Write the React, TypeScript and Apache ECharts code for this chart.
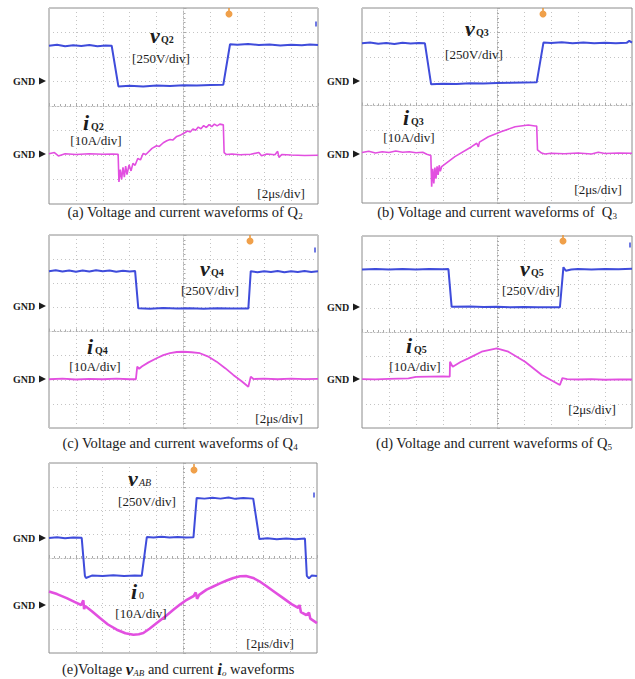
import React, { useEffect, useRef } from "react";
import * as echarts from "echarts";

// Time axis in µs (2 µs/div, trigger at 0) ; vertical axis in screen divisions (-4..4)
const vQ2 = [[-10, 2.46], [-9.4, 2.5], [-8.8, 2.44], [-8.2, 2.48], [-7.6, 2.45], [-7, 2.49], [-6.4, 2.44], [-5.8, 2.47], [-5.34, 2.46], [-4.84, 0.8], [-4, 0.83], [-3, 0.8], [-2, 0.84], [-1, 0.82], [0, 0.85], [1, 0.84], [2, 0.86], [2.96, 0.87], [3.46, 2.52], [4, 2.5], [4.8, 2.53], [5.6, 2.49], [6.4, 2.51], [7.2, 2.47], [8, 2.5], [8.8, 2.48], [9.4, 2.51], [10, 2.49]];
const iQ2 = [[-10, -1.95], [-9.6, -1.9], [-9.3, -2.04], [-8.8, -1.95], [-8, -1.98], [-7, -1.95], [-6, -1.97], [-5.3, -1.96], [-4.86, -1.97], [-4.8, -3.1], [-4.7, -2.6], [-4.6, -3.0], [-4.5, -2.5], [-4.4, -2.9], [-4.3, -2.45], [-4.2, -2.8], [-4.05, -2.4], [-3.9, -2.65], [-3.76, -2.34], [-3.6, -2.42], [-3.4, -2.14], [-3.2, -2.2], [-3.0, -1.94], [-2.8, -1.98], [-2.34, -1.73], [-2.0, -1.62], [-1.8, -1.65], [-1.5, -1.5], [-1.24, -1.42], [-1.0, -1.37], [-0.8, -1.39], [-0.5, -1.24], [-0.2, -1.18], [0.12, -1.08], [0.3, -1.02], [0.5, -1.06], [0.7, -0.94], [0.9, -0.99], [1.1, -0.86], [1.3, -0.93], [1.5, -0.8], [1.7, -0.88], [1.9, -0.76], [2.1, -0.84], [2.3, -0.74], [2.5, -0.81], [2.7, -0.74], [2.96, -0.77], [3.02, -1.9], [3.2, -1.98], [3.6, -1.96], [4.2, -1.99], [5.0, -1.97], [5.6, -1.9], [5.8, -2.03], [6.2, -1.96], [6.8, -1.99], [7.0, -1.85], [7.1, -2.1], [7.3, -1.98], [8, -2.0], [9, -2.02], [10, -2.01]];

const vQ3 = [[-10, 2.55], [-9.4, 2.58], [-8.8, 2.53], [-8.2, 2.56], [-7.6, 2.52], [-7, 2.57], [-6.4, 2.54], [-5.8, 2.56], [-5.34, 2.55], [-4.88, 0.87], [-4, 0.89], [-3, 0.88], [-2, 0.91], [-1, 0.9], [0, 0.92], [1, 0.93], [2, 0.94], [2.94, 0.95], [3.44, 2.58], [4, 2.56], [4.8, 2.59], [5.6, 2.55], [6.4, 2.58], [7.2, 2.55], [8, 2.57], [8.8, 2.55], [9.6, 2.57], [9.8, 2.65], [10, 2.58]];
const iQ3 = [[-10, -1.93], [-9.5, -1.88], [-9, -1.95], [-8.5, -1.9], [-8, -1.93], [-7.5, -1.87], [-7, -1.92], [-6.5, -1.9], [-6, -1.94], [-5.5, -1.92], [-5.2, -2.0], [-4.9, -2.05], [-4.84, -3.33], [-4.76, -2.6], [-4.68, -3.2], [-4.6, -2.55], [-4.52, -3.0], [-4.44, -2.5], [-4.36, -2.85], [-4.28, -2.45], [-4.2, -2.7], [-4.1, -2.51], [-3.12, -2.1], [-1.88, -1.69], [-1.5, -1.55], [-1.38, -1.7], [-1.3, -1.5], [-0.64, -1.28], [0.34, -1.07], [1.34, -0.87], [2.32, -0.8], [2.82, -0.84], [2.94, -0.84], [3.0, -1.82], [3.3, -1.95], [3.56, -1.99], [4, -1.96], [5, -1.98], [6, -1.95], [7, -1.99], [7.5, -1.92], [8, -1.97], [9, -1.95], [10, -1.96]];

const vQ4 = [[-10, 2.5], [-9.5, 2.54], [-9, 2.49], [-8.5, 2.53], [-8, 2.48], [-7.5, 2.53], [-7, 2.49], [-6.5, 2.54], [-6, 2.5], [-5.5, 2.53], [-5, 2.48], [-4.5, 2.52], [-4, 2.49], [-3.6, 2.51], [-3.36, 0.96], [-2.5, 0.94], [-1.5, 0.97], [-0.5, 0.95], [0.5, 0.96], [1.5, 0.94], [2.5, 0.96], [3.5, 0.95], [4.82, 0.95], [5.0, 2.5], [5.5, 2.46], [6, 2.5], [6.5, 2.47], [7, 2.51], [7.5, 2.46], [8, 2.5], [8.5, 2.47], [9, 2.51], [9.5, 2.47], [10, 2.5]];
const iQ4 = [[-10, -1.98], [-9, -1.95], [-8, -1.99], [-7, -1.96], [-6, -1.98], [-5, -1.95], [-4, -1.98], [-3.54, -1.98], [-3.44, -1.45], [-3.3, -1.55], [-3.1, -1.45], [-2.6, -1.28], [-2.0, -1.11], [-1.5, -0.98], [-1.0, -0.9], [-0.5, -0.85], [0, -0.84], [0.6, -0.86], [1.22, -0.9], [1.8, -1.03], [2.46, -1.25], [3.1, -1.52], [3.7, -1.8], [4.3, -2.05], [4.82, -2.29], [5.0, -1.87], [5.2, -1.97], [6, -1.95], [7, -1.98], [8, -1.95], [9, -1.97], [10, -1.96]];

const vQ5 = [[-10, 2.6], [-9, 2.63], [-8, 2.6], [-7, 2.62], [-6, 2.6], [-5, 2.63], [-4, 2.61], [-3.6, 2.62], [-3.36, 1.05], [-2, 1.06], [-1, 1.04], [0, 1.05], [1, 1.03], [2, 1.04], [3, 1.03], [4.66, 1.03], [4.92, 2.7], [5.1, 2.55], [5.5, 2.6], [6, 2.62], [7, 2.6], [8, 2.63], [9, 2.61], [10, 2.64]];
const iQ5 = [[-10, -1.96], [-9, -1.97], [-8, -1.95], [-6.56, -1.93], [-6, -1.87], [-5, -1.86], [-4, -1.85], [-3.5, -1.86], [-3.48, -1.24], [-3.28, -1.45], [-2.7, -1.25], [-2.12, -1.1], [-1.14, -0.82], [-0.02, -0.68], [0.84, -0.82], [2.08, -1.24], [3.32, -1.79], [4.66, -2.21], [4.84, -1.92], [5.2, -1.96], [6, -1.98], [7, -1.96], [8, -1.99], [9, -1.97], [10, -1.98]];

const vAB = [[-10, 0.84], [-9.4, 0.87], [-8.8, 0.83], [-8.2, 0.86], [-7.56, 0.85], [-7.32, -0.75], [-7.25, -0.84], [-6.8, -0.74], [-6, -0.76], [-5.2, -0.73], [-4.4, -0.76], [-3.6, -0.74], [-3.08, -0.75], [-2.7, 0.88], [-2.2, 0.86], [-1.6, 0.89], [-1, 0.86], [-0.4, 0.88], [0.2, 0.86], [0.78, 0.87], [1.02, 2.53], [1.6, 2.5], [2.2, 2.54], [2.8, 2.5], [3.4, 2.55], [3.9, 2.49], [4.5, 2.53], [5.24, 2.5], [5.7, 0.8], [6.3, 0.83], [7, 0.79], [7.7, 0.82], [8.4, 0.79], [9.1, 0.82], [9.24, -0.75], [9.4, -0.86], [9.6, -0.74], [10, -0.76]];
const iO = [[-10, -1.41], [-9.4, -1.52], [-8.68, -1.69], [-8.1, -1.85], [-7.6, -1.98], [-7.44, -1.78], [-7.38, -2.15], [-7.3, -2.02], [-6.8, -2.24], [-6.2, -2.53], [-5.6, -2.8], [-4.94, -3.02], [-4.3, -3.17], [-3.7, -3.23], [-3.3, -3.21], [-2.96, -3.16], [-2.5, -2.98], [-1.96, -2.74], [-1.3, -2.45], [-0.72, -2.18], [-0.2, -1.95], [0.28, -1.76], [0.8, -1.6], [0.95, -1.45], [1.05, -1.72], [1.2, -1.55], [1.76, -1.33], [2.26, -1.2], [2.76, -1.07], [3.26, -0.95], [3.76, -0.84], [4.26, -0.77], [4.7, -0.76], [5.24, -0.84], [5.7, -0.98], [6.24, -1.19], [6.86, -1.44], [7.48, -1.69], [8.1, -1.94], [8.6, -2.1], [8.7, -1.98], [8.8, -2.28], [9.2, -2.4], [9.4, -2.3], [9.5, -2.55], [10, -2.74]];

const voltDiv = "[250V/div]";
const currDiv = "[10A/div]";
const timeDiv = "[2\u03bcs/div]";

const FONT = "'Liberation Serif', 'Times New Roman', serif";
const BLUE = "#3f4cdb";
const PINK = "#e24fe0";
const INK = "#1c1c1c";

type P = {
  g: { left: number; top: number; width: number; height: number };
  v: number[][]; i: number[][]; iw: number;
  vs: [number, number, string, string]; vd: [number, number];
  is: [number, number, string, string]; id: [number, number];
  td: [number, number]; gx: number; gnd: [number, number]; trig: [number, number];
  mark: [number, number] | null;
  cap: [number, number, string];
};

const panels: P[] = [
  { g: { left: 49, top: 8, width: 269, height: 196 }, v: vQ2, i: iQ2, iw: 1.6,
    vs: [150, 46, "v", "Q2"], vd: [161, 58], is: [83, 133, "i", "Q2"], id: [96, 140], td: [281, 193],
    gx: 13, gnd: [81, 154], trig: [229, 14], mark: [316, 24], cap: [185, 212, "{n|(a) Voltage and current waveforms of Q}{s|2}"] },
  { g: { left: 362, top: 8, width: 270, height: 195 }, v: vQ3, i: iQ3, iw: 1.6,
    vs: [465, 39, "v", "Q3"], vd: [474, 54], is: [403, 128, "i", "Q3"], id: [409, 137], td: [598, 189],
    gx: 327, gnd: [81, 154], trig: [543, 14], mark: null, cap: [497, 212, "{n|(b) Voltage and current waveforms of  Q}{s|3}"] },
  { g: { left: 49, top: 235, width: 269, height: 193 }, v: vQ4, i: iQ4, iw: 1.8,
    vs: [200, 279, "v", "Q4"], vd: [210, 290], is: [87, 357, "i", "Q4"], id: [95, 366], td: [279, 418],
    gx: 13, gnd: [306, 379], trig: [250, 241], mark: [315, 250], cap: [180, 443, "{n|(c) Voltage and current waveforms of Q}{s|4}"] },
  { g: { left: 362, top: 236, width: 270, height: 192 }, v: vQ5, i: iQ5, iw: 1.8,
    vs: [520, 279, "v", "Q5"], vd: [531, 290], is: [406, 356, "i", "Q5"], id: [415, 366], td: [592, 409],
    gx: 327, gnd: [307, 379], trig: [563, 241], mark: [630, 245], cap: [494, 443, "{n|(d) Voltage and current waveforms of Q}{s|5}"] },
  { g: { left: 49, top: 463, width: 268, height: 190 }, v: vAB, i: iO, iw: 2.6,
    vs: [128, 489, "v", "AB"], vd: [147, 501], is: [131, 602, "i", "0"], id: [141, 613], td: [270, 643],
    gx: 13, gnd: [538, 605], trig: [194, 470], mark: [314, 495], cap: [62, 669, "{n|(e)Voltage }{b|v}{t|AB}{n| and current }{b|i}{t|o}{n| waveforms}"] },
];

function txt(x: number, y: number, s: string, font: string, align = "left", va = "middle", fill = INK) {
  return { type: "text", x, y, silent: true, z: 20,
    style: { text: s, font, fill, textAlign: align, textVerticalAlign: va, align, verticalAlign: va } };
}

function buildOption() {
  const grid: any[] = [], xAxis: any[] = [], yAxis: any[] = [], series: any[] = [], graphic: any[] = [];
  const gl = { color: "#c4c4c4", type: [1, 3] as any, width: 1 };
  panels.forEach((p, k) => {
    grid.push({ ...p.g, show: true, borderColor: "#8c8c8c", borderWidth: 1, backgroundColor: "#fff" });
    const common = {
      gridIndex: k, type: "value", axisLabel: { show: false },
      axisLine: { show: true, onZero: true, lineStyle: { color: "#b8b8b8", type: [1, 2] } },
      axisTick: { show: true, inside: true, length: 3, lineStyle: { color: "#aaa" } },
      minorTick: { show: true, splitNumber: 5, length: 2, lineStyle: { color: "#aaa" } },
      splitLine: { show: true, lineStyle: gl },
    };
    xAxis.push({ ...common, min: -10, max: 10, interval: 2 });
    yAxis.push({ ...common, min: -4, max: 4, interval: 1 });
    series.push({ type: "line", xAxisIndex: k, yAxisIndex: k, data: p.v, showSymbol: false, silent: true, z: 5,
      lineStyle: { color: BLUE, width: 2 } });
    series.push({ type: "line", xAxisIndex: k, yAxisIndex: k, data: p.i, showSymbol: false, silent: true, z: 6,
      lineStyle: { color: PINK, width: p.iw } });

    const isE = k === 4;
    graphic.push(txt(p.vs[0], p.vs[1], p.vs[2], `italic bold 22px ${FONT}`, "left", "bottom"));
    graphic.push(txt(p.vs[0] + 11, p.vs[1] - 2, p.vs[3], `${isE ? "italic" : "bold"} 10px ${FONT}`, "left", "bottom"));
    graphic.push(txt(p.is[0], p.is[1], p.is[2], `italic bold 22px ${FONT}`, "left", "bottom"));
    graphic.push(txt(p.is[0] + 8, p.is[1] - 2, p.is[3], `${isE ? "" : "bold "}10px ${FONT}`, "left", "bottom"));
    graphic.push(txt(p.vd[0], p.vd[1], voltDiv, `13px ${FONT}`, "center"));
    graphic.push(txt(p.id[0], p.id[1], currDiv, `13px ${FONT}`, "center"));
    graphic.push(txt(p.td[0], p.td[1], timeDiv, `13px ${FONT}`, "center"));
    p.gnd.forEach((gy) => {
      graphic.push(txt(p.gx, gy, "GND", `bold 10px ${FONT}`, "left"));
      graphic.push({ type: "polygon", silent: true, z: 20,
        shape: { points: [[p.gx + 26, gy - 3.5], [p.gx + 33, gy], [p.gx + 26, gy + 3.5]] }, style: { fill: INK } });
    });
    graphic.push({ type: "line", silent: true, z: 21, shape: { x1: p.trig[0], y1: p.trig[1] - 6, x2: p.trig[0], y2: p.trig[1] - 2 },
      style: { stroke: "#e8963a", lineWidth: 1.5 } });
    graphic.push({ type: "circle", silent: true, z: 21, shape: { cx: p.trig[0], cy: p.trig[1], r: 3.5 }, style: { fill: "#f0a04a" } });
    if (p.mark) {
      graphic.push({ type: "line", silent: true, z: 21, shape: { x1: p.mark[0], y1: p.mark[1] - 2.5, x2: p.mark[0], y2: p.mark[1] + 2.5 },
        style: { stroke: BLUE, lineWidth: 1.5 } });
    }
    graphic.push({ type: "text", x: p.cap[0], y: p.cap[1], silent: true, z: 20,
      style: { text: p.cap[2], textAlign: isE ? "left" : "center", align: isE ? "left" : "center",
        textVerticalAlign: "middle", verticalAlign: "middle",
        rich: {
          n: { font: `14.5px ${FONT}`, fill: INK, lineHeight: 16 },
          s: { font: `9px ${FONT}`, fill: INK, verticalAlign: "bottom" },
          b: { font: `italic bold 17px ${FONT}`, fill: INK, lineHeight: 16 },
          t: { font: `italic 9px ${FONT}`, fill: INK, verticalAlign: "bottom" },
        } } });
  });
  return { animation: false, backgroundColor: "#fff", grid, xAxis, yAxis, series, graphic };
}

export default function App() {
  const ref = useRef<HTMLDivElement>(null);
  useEffect(() => {
    const chart = echarts.init(ref.current!, null, { renderer: "svg" });
    chart.setOption(buildOption() as any);
    return () => chart.dispose();
  }, []);
  return <div ref={ref} style={{ position: "absolute", left: 0, top: 0, width: 635, height: 679, background: "#fff" }} />;
}
